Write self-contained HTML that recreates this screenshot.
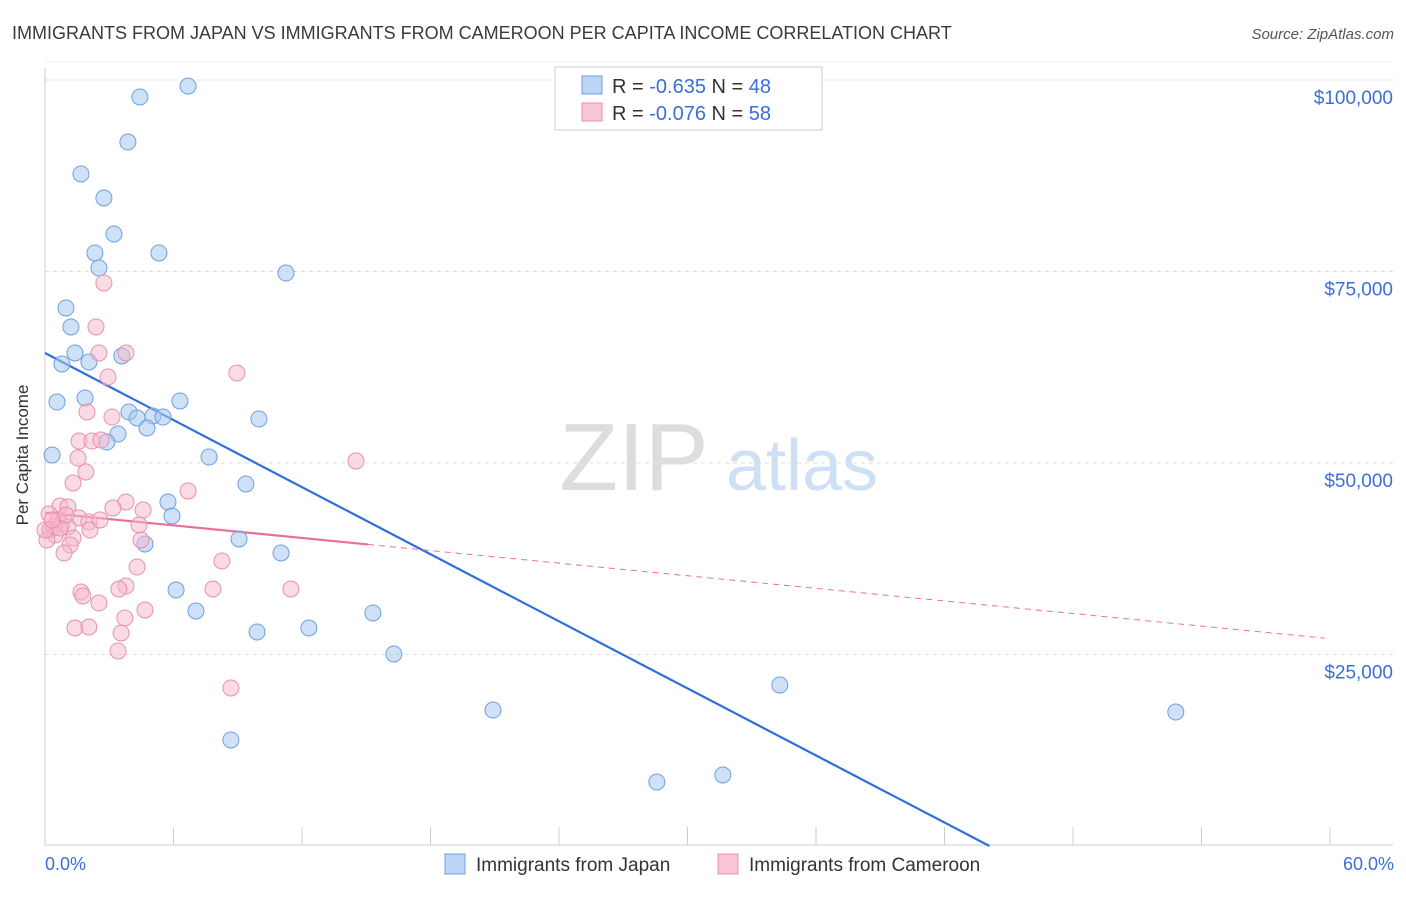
<!DOCTYPE html>
<html><head><meta charset="utf-8"><style>
body{margin:0;background:#fff;font-family:"Liberation Sans",sans-serif}
svg text{font-family:"Liberation Sans",sans-serif}
</style></head><body>
<svg id="c" width="1406" height="892" viewBox="0 0 1406 892">
<text x="12" y="39" font-size="18" fill="#3a3a3a">IMMIGRANTS FROM JAPAN VS IMMIGRANTS FROM CAMEROON PER CAPITA INCOME CORRELATION CHART</text>
<text x="1394" y="39" font-size="15" fill="#555" font-style="italic" text-anchor="end">Source: ZipAtlas.com</text>
<g>
<text x="634" y="490" font-size="96" fill="#ddd" font-family="Liberation Serif" text-anchor="middle">ZIP</text>
<text x="802" y="490" font-size="72" fill="#cfe0f5" text-anchor="middle">atlas</text>
</g>
<g id="grid"></g>
<line x1="45" y1="68" x2="45" y2="845" stroke="#ccc"/>
<line x1="45" y1="845" x2="1393" y2="845" stroke="#ccc"/>
<text x="28" y="455" font-size="17" fill="#333" text-anchor="middle" transform="rotate(-90 28 455)">Per Capita Income</text>
<text x="45" y="870" font-size="18" fill="#3a6fd8">0.0%</text>
<text x="1394" y="870" font-size="18" fill="#3a6fd8" text-anchor="end">60.0%</text>
<g id="lines"></g>
<g id="pts"></g>
<g>
<rect x="555" y="67" width="267" height="63" fill="#fff" stroke="#ccc"/>
<rect x="582" y="76" width="20" height="18" fill="#bcd4f5" stroke="#6f9fe0"/>
<rect x="582" y="103" width="20" height="18" fill="#f9c6d6" stroke="#e890ae"/>
<text x="612" y="93" font-size="20" fill="#333">R = <tspan fill="#3a6fd8">-0.635</tspan>   N = <tspan fill="#3a6fd8">48</tspan></text>
<text x="612" y="120" font-size="20" fill="#333">R = <tspan fill="#3a6fd8">-0.076</tspan>   N = <tspan fill="#3a6fd8">58</tspan></text>
</g>
<g>
<rect x="445" y="854" width="20" height="20" fill="#bcd4f5" stroke="#6f9fe0"/>
<text x="476" y="871" font-size="19" fill="#333">Immigrants from Japan</text>
<rect x="718" y="854" width="20" height="20" fill="#f9c6d6" stroke="#e890ae"/>
<text x="749" y="871" font-size="19" fill="#333">Immigrants from Cameroon</text>
</g>
</svg>
<script>
const yTicks=[25000,50000,75000,100000];
const yTickLabels=["$25,000","$50,000","$75,000","$100,000"];
const xTicks=[0,6,12,18,24,30,36,42,48,54,60];
const japanX=[6.68,4.43,3.87,1.68,2.75,3.22,2.33,5.32,2.52,11.25,0.98,1.21,1.40,0.79,3.59,2.05,0.56,1.87,6.30,3.92,4.30,5.04,5.51,4.76,3.41,2.89,9.99,0.33,7.66,9.38,5.74,5.93,4.67,9.06,11.02,6.12,7.05,15.31,9.90,12.32,16.29,20.92,34.31,52.80,8.68,28.57,31.65,0.23];
const japanY=[99200,97780,91910,87730,84600,79900,77420,77420,75460,74800,70240,67760,64360,62930,63970,63190,57960,58490,58100,56660,55880,56140,56000,54570,53790,52740,55750,51050,50780,47260,44910,43080,39430,40080,38250,33420,30680,30420,27940,28460,25070,17750,21020,17490,13840,8360,9270,41250];
const camX=[2.75,2.38,2.52,3.78,2.94,8.96,1.96,3.13,1.59,2.19,2.61,1.54,14.52,1.91,1.31,6.68,0.70,3.78,3.17,4.58,1.07,0.19,1.59,2.05,0.61,0.79,1.07,0.42,0.23,0.47,4.39,4.48,1.31,1.17,0.89,8.26,4.30,3.78,3.45,1.68,1.77,7.84,11.48,2.52,4.67,3.73,1.40,2.05,3.55,3.41,8.68,0.09,0.0,0.70,0.33,2.10,0.98,2.57];
const camY=[73500,67760,64360,64360,61230,61750,56660,56010,52870,52870,53000,50650,50260,48830,47390,46350,44390,44910,44130,43860,44260,43340,42820,42300,42560,42040,41650,41650,41250,40600,41910,39950,40210,39300,38250,37210,36420,33940,33550,33160,32640,33550,33550,31720,30810,29770,28460,28590,27810,25460,20630,39950,41250,41510,42560,41250,43210,42560];
const japanTrend=[0,64360,44.1,0];
const camTrend=[0,43500,15.08,59.76];
const NS="http://www.w3.org/2000/svg";
const sx=v=>45+v*(1330-45)/60;
const sy=v=>846-v*191.5/25000;
function mk(tag,attrs,parent){const e=document.createElementNS(NS,tag);for(const k in attrs)e.setAttribute(k,attrs[k]);parent.appendChild(e);return e;}
const grid=document.getElementById('grid');
yTicks.forEach((t,i)=>{
 const l=mk('line',{x1:45,x2:1393,y1:sy(t),y2:sy(t),stroke:'#ddd','stroke-dasharray':'4,4'},grid);
 
 
 const tx=mk('text',{x:1393,y:sy(t)+24,'font-size':19,fill:'#3a6fd8','text-anchor':'end'},grid);
 tx.textContent=yTickLabels[i];
 
 
});
const tg=mk('line',{x1:45,x2:1393,y1:sy(100000)-18,y2:sy(100000)-18,stroke:'#eee'},grid);
xTicks.forEach(t=>{
 const l=mk('line',{x1:sx(t),x2:sx(t),y1:827,y2:845,stroke:'#ccc'},grid);
 
 
});
const lines=document.getElementById('lines');
const pts=document.getElementById('pts');
japanX.forEach((x,i)=>{
 const c=mk('circle',{cx:sx(x),cy:sy(japanY[i]),r:8,fill:'rgba(168,200,240,0.55)',stroke:'#6f9fe0','stroke-width':1},pts);
 
 
});
camX.forEach((x,i)=>{
 const c=mk('circle',{cx:sx(x),cy:sy(camY[i]),r:8,fill:'rgba(245,184,204,0.5)',stroke:'#e890ae','stroke-width':1},pts);
 
 
});
const js=(japanTrend[3]-japanTrend[1])/(japanTrend[2]-japanTrend[0]);
const jl=mk('line',{x1:sx(0),y1:sy(japanTrend[1]),x2:sx(japanTrend[2]),y2:sy(japanTrend[3]),stroke:'#2f6fdc','stroke-width':2.2},lines);


const cs=-274;
const cl=mk('line',{x1:sx(0),y1:sy(camTrend[1]),x2:sx(camTrend[2]),y2:sy(camTrend[1]+cs*camTrend[2]),stroke:'#e8709a','stroke-width':2.2},lines);


const cd=mk('line',{x1:sx(camTrend[2]),y1:sy(camTrend[1]+cs*camTrend[2]),x2:sx(camTrend[3]),y2:sy(camTrend[1]+cs*camTrend[3]),stroke:'#e8709a','stroke-width':1,'stroke-dasharray':'6,5'},lines);


</script>
</body></html>
